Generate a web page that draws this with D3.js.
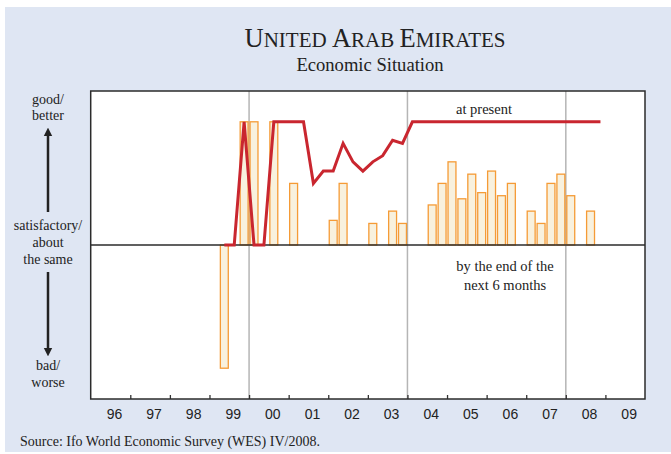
<!DOCTYPE html>
<html>
<head>
<meta charset="utf-8">
<script src="https://cdn.jsdelivr.net/npm/d3@7/dist/d3.min.js"></script>
<style>
  html, body { margin: 0; padding: 0; background: #ffffff; }
  svg { display: block; }
</style>
</head>
<body>
<svg id="chart" width="671" height="454"></svg>
<script>
// WES grades: 9 = good/better, 5 = satisfactory/about the same, 1 = bad/worse

// Economic situation at present (line), one value per quarter
const presentQuarters = [
  "1999Q2","1999Q3","1999Q4","2000Q1","2000Q2","2000Q3","2000Q4","2001Q1","2001Q2","2001Q3",
  "2001Q4","2002Q1","2002Q2","2002Q3","2002Q4","2003Q1","2003Q2","2003Q3","2003Q4","2004Q1",
  "2004Q2","2004Q3","2004Q4","2005Q1","2005Q2","2005Q3","2005Q4","2006Q1","2006Q2","2006Q3",
  "2006Q4","2007Q1","2007Q2","2007Q3","2007Q4","2008Q1","2008Q2","2008Q3","2008Q4"
];
const presentValues = [
  5.0, 5.0, 9.0, 5.0, 5.0, 9.0, 9.0, 9.0, 9.0, 7.0,
  7.4, 7.4, 8.3, 7.7, 7.4, 7.7, 7.9, 8.4, 8.3, 9.0,
  9.0, 9.0, 9.0, 9.0, 9.0, 9.0, 9.0, 9.0, 9.0, 9.0,
  9.0, 9.0, 9.0, 9.0, 9.0, 9.0, 9.0, 9.0, 9.0
];

// Expectations by the end of the next 6 months (bars)
const expectQuarters = [
  "1999Q2","1999Q4","2000Q1","2000Q3","2001Q1","2002Q1","2002Q2","2003Q1","2003Q3","2003Q4",
  "2004Q3","2004Q4","2005Q1","2005Q2","2005Q3","2005Q4","2006Q1","2006Q2","2006Q3",
  "2007Q1","2007Q2","2007Q3","2007Q4","2008Q1","2008Q3"
];
const expectValues = [
  1.0, 9.0, 9.0, 9.0, 7.0, 5.8, 7.0, 5.7, 6.1, 5.7,
  6.3, 7.0, 7.7, 6.5, 7.3, 6.7, 7.4, 6.6, 7.0,
  6.1, 5.7, 7.0, 7.3, 6.6, 6.1
];

const yearLabels = ["96","97","98","99","00","01","02","03","04","05","06","07","08","09"];
const firstYear = 1996;
const dividerYears = [2000, 2004, 2008];
const neutralGrade = 5;

const svg = d3.select("#chart");
const W = 671, H = 454;
const plot = { left: 90.7, right: 645, top: 91, bottom: 399 };

// page background
svg.append("rect").attr("x", 0).attr("y", 0).attr("width", W).attr("height", H).attr("fill", "#ffffff");
svg.append("rect").attr("x", 5).attr("y", 7).attr("width", W - 5).attr("height", H - 9).attr("fill", "#dfe6f3");

const serif = "'Liberation Serif', 'Times New Roman', serif";
const sans = "'Liberation Sans', Arial, sans-serif";
const textColor = "#222222";

// title in small capitals
const title = svg.append("text")
  .attr("x", 375).attr("y", 47)
  .attr("text-anchor", "middle")
  .attr("font-family", serif)
  .attr("fill", textColor);
[["U", 26.5], ["NITED ", 21], ["A", 26.5], ["RAB ", 21], ["E", 26.5], ["MIRATES", 21]]
  .forEach(([t, s]) => title.append("tspan").attr("font-size", s).text(t));

svg.append("text")
  .attr("x", 370).attr("y", 71)
  .attr("text-anchor", "middle")
  .attr("font-family", serif).attr("font-size", 18.6)
  .attr("fill", textColor)
  .text("Economic Situation");

// scales
const quarterPos = q => +q.slice(0, 4) + (+q.slice(5) - 1) / 4;
const x = d3.scaleLinear()
  .domain([firstYear, firstYear + yearLabels.length])
  .range([plot.left, plot.right]);
const y = d3.scaleLinear()
  .domain([0, 10])
  .range([plot.bottom, plot.top]);

// plot area
svg.append("rect")
  .attr("x", plot.left).attr("y", plot.top)
  .attr("width", plot.right - plot.left).attr("height", plot.bottom - plot.top)
  .attr("fill", "#ffffff");

// year dividers
svg.append("g").selectAll("line")
  .data(dividerYears)
  .join("line")
  .attr("x1", d => x(d)).attr("x2", d => x(d))
  .attr("y1", plot.top).attr("y2", plot.bottom)
  .attr("stroke", "#b5b5b5").attr("stroke-width", 1.5);

// bars: expectations
const barW = x(firstYear + 0.2) - x(firstYear);
svg.append("g").selectAll("rect")
  .data(expectQuarters.map((q, i) => ({ q, v: expectValues[i] })))
  .join("rect")
  .attr("x", d => x(quarterPos(d.q) + 0.125) - barW / 2)
  .attr("width", barW)
  .attr("y", d => y(Math.max(d.v, neutralGrade)))
  .attr("height", d => Math.abs(y(d.v) - y(neutralGrade)))
  .attr("fill", "#f8f1de")
  .attr("stroke", "#f59b36")
  .attr("stroke-width", 1.3);

// zero line
svg.append("line")
  .attr("x1", plot.left).attr("x2", plot.right)
  .attr("y1", y(neutralGrade)).attr("y2", y(neutralGrade))
  .attr("stroke", "#2b2b2b").attr("stroke-width", 1.3);

// line: present situation
const line = d3.line()
  .x(d => x(quarterPos(d.q) + 0.125))
  .y(d => y(d.v));
svg.append("path")
  .datum(presentQuarters.map((q, i) => ({ q, v: presentValues[i] })))
  .attr("d", line)
  .attr("fill", "none")
  .attr("stroke", "#c9262f")
  .attr("stroke-width", 3)
  .attr("stroke-linejoin", "miter");

// x axis ticks at year boundaries
const axis = d3.axisBottom(x)
  .tickValues(d3.range(firstYear + 1, firstYear + yearLabels.length))
  .tickSize(-4)
  .tickFormat("");
const gAxis = svg.append("g")
  .attr("transform", `translate(0,${plot.bottom})`)
  .call(axis);
gAxis.select(".domain").remove();
gAxis.selectAll(".tick line").attr("stroke", "#333333").attr("stroke-width", 1.3);

// year labels
svg.append("g").selectAll("text")
  .data(yearLabels)
  .join("text")
  .attr("x", (d, i) => x(firstYear + i + 0.6))
  .attr("y", 419)
  .attr("text-anchor", "middle")
  .attr("font-family", sans).attr("font-size", 14)
  .attr("fill", textColor)
  .text(d => d);

// frame
svg.append("rect")
  .attr("x", plot.left).attr("y", plot.top)
  .attr("width", plot.right - plot.left).attr("height", plot.bottom - plot.top)
  .attr("fill", "none")
  .attr("stroke", "#2b2b2b").attr("stroke-width", 1.5);

// series labels
svg.append("text")
  .attr("x", 484).attr("y", 114)
  .attr("text-anchor", "middle")
  .attr("font-family", serif).attr("font-size", 14.5)
  .attr("fill", textColor)
  .text("at present");
const expLabel = svg.append("text")
  .attr("text-anchor", "middle")
  .attr("font-family", serif).attr("font-size", 14.5)
  .attr("fill", textColor);
expLabel.append("tspan").attr("x", 505).attr("y", 271).text("by the end of the");
expLabel.append("tspan").attr("x", 505).attr("y", 290).text("next 6 months");

// scale description on the left
const leftX = 48;
const leftLabels = [
  ["good/", 104], ["better", 120],
  ["satisfactory/", 230], ["about", 247], ["the same", 264],
  ["bad/", 370], ["worse", 387]
];
svg.append("g").selectAll("text")
  .data(leftLabels)
  .join("text")
  .attr("x", leftX).attr("y", d => d[1])
  .attr("text-anchor", "middle")
  .attr("font-family", serif).attr("font-size", 14)
  .attr("fill", textColor)
  .text(d => d[0]);

const defs = svg.append("defs");
defs.append("marker")
  .attr("id", "arrowhead")
  .attr("viewBox", "0 0 10 10")
  .attr("refX", 5).attr("refY", 5)
  .attr("markerWidth", 3.5).attr("markerHeight", 5)
  .attr("orient", "auto")
  .append("path").attr("d", "M0,0 L10,5 L0,10 Z").attr("fill", "#222222");

svg.append("line")
  .attr("x1", leftX).attr("x2", leftX).attr("y1", 212).attr("y2", 132)
  .attr("stroke", "#222222").attr("stroke-width", 2.5)
  .attr("marker-end", "url(#arrowhead)");
svg.append("line")
  .attr("x1", leftX).attr("x2", leftX).attr("y1", 272).attr("y2", 352)
  .attr("stroke", "#222222").attr("stroke-width", 2.5)
  .attr("marker-end", "url(#arrowhead)");

// source note
svg.append("text")
  .attr("x", 20).attr("y", 446)
  .attr("font-family", serif).attr("font-size", 14)
  .attr("fill", textColor)
  .text("Source: Ifo World Economic Survey (WES) IV/2008.");
</script>
</body>
</html>
